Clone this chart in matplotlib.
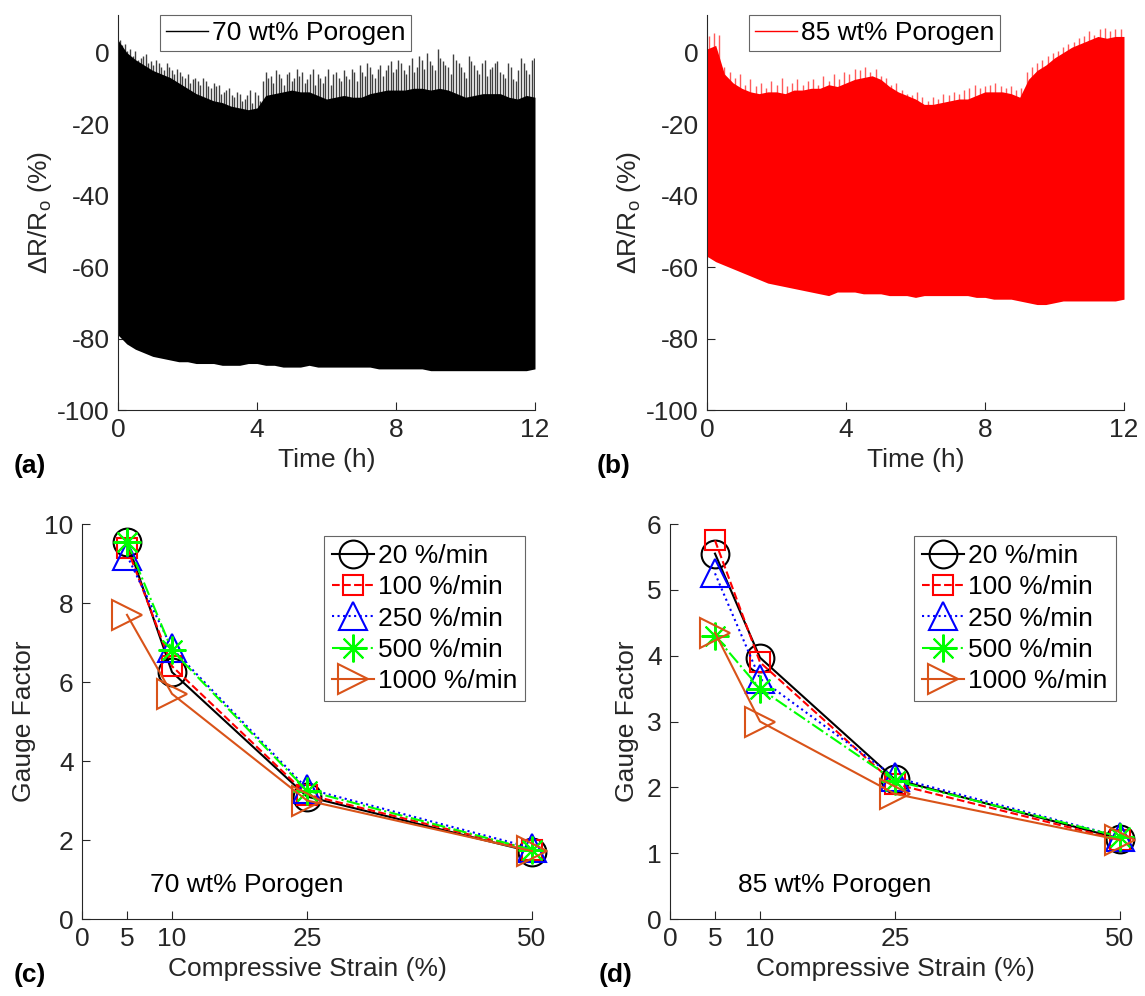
import numpy as np
import matplotlib
matplotlib.use('Agg')
import matplotlib.pyplot as plt
from matplotlib.lines import Line2D

plt.rcParams['font.family'] = ['Liberation Sans', 'DejaVu Sans']
plt.rcParams['font.size'] = 19
plt.rcParams['mathtext.fontset'] = 'custom'
plt.rcParams['mathtext.rm'] = 'Liberation Sans'
plt.rcParams['axes.unicode_minus'] = False

TXT = '#262626'
FS = 19

# ---------------- data: cyclic resistance response (envelopes) -------------
time_h = np.arange(0, 12.001, 0.25)  # 49 samples, hours

top_70 = [3.5, 0.0, -2.0, -3.5, -5.0, -6.0, -7.0, -8.5, -10.0, -11.5, -12.5, -13.5, -14.0,
          -15.0, -15.5, -16.0, -15.5,
          -12.0, -11.5, -11.0, -10.5, -11.0, -11.0, -12.0, -13.0, -12.5, -12.0, -12.5,
          -12.5, -11.5, -11.0, -10.5, -10.5, -10.5, -10.0, -10.0, -10.5, -10.0, -10.5,
          -11.5, -12.5, -12.0, -11.5, -11.5, -11.5, -12.5, -13.0, -12.0, -12.5]
low_70 = [-79, -81.5, -83, -84, -85, -85.5, -86, -86.5, -86.5, -87, -87, -87, -87.5,
          -87.5, -87.5, -87, -87, -87.5, -87.5, -88, -88, -88, -87.5, -88, -88, -88,
          -88, -88, -88, -88, -88.5, -88.5, -88.5, -88.5, -88.5, -88.5, -89, -89, -89,
          -89, -89, -89, -89, -89, -89, -89, -89, -89, -88.5]
spike_70 = [3.5, 2.5, 1.0, 0.5, -1.5, -0.5, -2.5, -2.0, -4.0, -3.0, -5.0, -4.5, -6.5, -6.0,
            -7.5, -8.0, -7.0, -9.5, -8.5, -9.0, -11.0, -10.0, -12.5, -11.5, -13.0, -10.5,
            -11.0, -13.5, -5.5, -6.5, -5.0, -7.0, -6.0, -8.0, -4.5, -5.5, -7.5, -4.5, -6.0,
            -8.5, -4.5, -6.0, -7.0, -5.0, -7.5, -5.5, -3.5, -6.5, -4.0, -7.0, -3.5, -5.0,
            -2.5, -4.5, -3.0, -6.0, -1.5, -4.0, -2.0, 0.0, -3.5, 1.0, -2.5, -4.0, -0.5,
            -3.0, -5.5, -1.0, -3.5, -6.0, -2.0, -4.5, -3.0, -5.5, -7.0, -4.0, -8.0, -1.5,
            -5.0, -2.0]
spike_70b = [2.0, 0.5, -1.0, -2.0, -1.0, -3.0, -3.5, -3.0, -5.0, -4.0,
             -6.0, -5.5, -7.0, -8.5, -7.0, -9.0, -8.0, -10.0, -9.5, -11.5,
             -10.5, -12.0, -11.0, -13.5, -12.0, -14.0, -12.0, -8.0, -7.0, -8.5,
             -6.0, -9.0, -5.5, -7.0, -6.5, -8.5, -6.0, -9.0, -7.0, -6.5,
             -9.0, -5.5, -8.0, -6.5, -4.5, -8.0, -5.5, -3.0, -6.0, -4.5,
             -6.5, -3.5, -5.5, -2.0, -5.0, -3.5, -5.5, -1.0, -4.5, -2.5,
             -5.0, -1.5, -3.5, -6.0, -2.0, -4.0, -7.0, -2.5, -5.0, -3.0,
             -6.5, -4.0, -2.5, -6.0, -3.0, -7.5, -5.0, -3.0, -6.0, -1.5]

top_85 = [1.0, 2.0, -6.0, -8.5, -10.0, -11.0, -11.5, -11.0, -11.0, -11.5, -10.5, -10.5,
          -10.0, -10.0, -9.0, -9.5, -8.5, -7.5, -7.0, -6.5, -7.5, -9.5, -11.0, -12.0, -13.0,
          -14.5, -14.5, -14.0, -13.5, -13.0, -13.0, -12.0, -11.0, -11.0, -11.0, -11.5,
          -12.5, -7.5, -5.0, -3.5, -1.5, 0.0, 1.5, 2.5, 3.5, 4.5, 4.0, 4.5, 4.5]
low_85 = [-57, -58.5, -59.5, -60.5, -61.5, -62.5, -63.5, -64.5, -65, -65.5, -66, -66.5,
          -67, -67.5, -68, -67, -67, -67, -67.5, -67.5, -67.5, -68, -68, -68, -68.5, -68,
          -68, -68, -68, -68, -68, -68.5, -68.5, -69, -69, -69, -69.5, -70, -70.5, -70.5,
          -70, -69.5, -69.5, -69.5, -69.5, -69.5, -69.5, -69.5, -69]
spike_85 = [4.5, 5.5, 5.0, -4.0, -5.5, -7.0, -6.0, -9.0, -7.5, -9.5, -8.5, -10.0, -8.0,
            -9.0, -7.0, -9.5, -8.5, -7.5, -9.0, -8.0, -7.5, -9.0, -6.5, -8.0, -6.0, -7.5,
            -5.5, -6.0, -4.5, -5.0, -4.0, -5.5, -4.5, -6.5, -7.0, -9.0, -8.5, -10.5, -11.5,
            -12.0, -11.0, -12.5, -13.5, -12.5, -13.0, -11.5, -12.0, -11.0, -11.5, -10.5,
            -10.0, -9.0, -10.0, -9.5, -9.0, -8.5, -9.5, -10.0, -9.5, -10.5, -10.0, -5.5,
            -4.0, -3.0, -2.0, -1.0, 0.0, 0.5, 1.5, 2.5, 3.0, 4.0, 4.5, 6.0, 5.0, 6.5, 7.0,
            6.0, 6.5, 6.5]

# ---------------- data: gauge factor vs compressive strain ----------------
strain = [5, 10, 25, 50]
rates = ['20 %/min', '100 %/min', '250 %/min', '500 %/min', '1000 %/min']
gf_70 = {
    '20 %/min':   [9.55, 6.25, 3.10, 1.70],
    '100 %/min':  [9.40, 6.40, 3.15, 1.75],
    '250 %/min':  [9.20, 6.85, 3.30, 1.80],
    '500 %/min':  [9.55, 6.80, 3.25, 1.75],
    '1000 %/min': [7.70, 5.70, 3.00, 1.72],
}
gf_85 = {
    '20 %/min':   [5.55, 3.97, 2.12, 1.22],
    '100 %/min':  [5.75, 3.90, 2.05, 1.20],
    '250 %/min':  [5.25, 3.65, 2.15, 1.25],
    '500 %/min':  [4.30, 3.50, 2.10, 1.25],
    '1000 %/min': [4.35, 3.00, 1.90, 1.20],
}

styles = {
    '20 %/min':   dict(color='k', ls='-', marker='o', ms=20),
    '100 %/min':  dict(color='#ff0000', ls='--', marker='s', ms=15),
    '250 %/min':  dict(color='#0000ff', ls=':', marker='^', ms=20),
    '500 %/min':  dict(color='#00ff00', ls='-.', marker=(8, 2, 0), ms=20),
    '1000 %/min': dict(color='#D95319', ls='-', marker='>', ms=22),
}

W, H = 1145, 996
fig = plt.figure(figsize=(W / 100, H / 100), dpi=100)


def rect(l, r, t, b):
    return [l / W, 1 - b / H, (r - l) / W, (b - t) / H]


def style_ax(ax):
    for s in ('top', 'right'):
        ax.spines[s].set_visible(False)
    for s in ('left', 'bottom'):
        ax.spines[s].set_color(TXT)
        ax.spines[s].set_linewidth(0.8)
    ax.tick_params(direction='in', length=6, width=0.8, colors=TXT, labelsize=FS, pad=6)


def ts_panel(ax, top, low, spike_sets, color, spike_color, label):
    for sp, (t0, t1) in spike_sets:
        st = np.linspace(t0, t1, len(sp))
        ax.vlines(st, -50, sp, color=spike_color, lw=1.0, zorder=1)
    ax.fill_between(time_h, low, top, color=color, lw=0, zorder=2)
    ax.set_xlim(0, 12)
    ax.set_ylim(-100, 10.5)
    ax.set_xticks([0, 4, 8, 12])
    ax.set_yticks([-100, -80, -60, -40, -20, 0])
    ax.set_xlabel('Time (h)', color=TXT, labelpad=4)
    ax.set_ylabel(r'ΔR/R$_\mathregular{o}$ (%)', color=TXT, labelpad=2)
    style_ax(ax)
    leg = ax.legend(handles=[Line2D([], [], color=color, lw=1)], labels=[label],
                    loc='upper left', bbox_to_anchor=(0.10, 1.0), borderaxespad=0,
                    fancybox=False, framealpha=1, edgecolor='0.4', borderpad=0.22,
                    handlelength=1.6, handletextpad=0.15, fontsize=FS)
    leg.get_frame().set_linewidth(0.8)
    leg.set_zorder(10)


ax_a = fig.add_axes(rect(118, 535, 15, 410))
ts_panel(ax_a, top_70, low_70, [(spike_70, (0.05, 11.9)), (spike_70b, (0.12, 11.97))],
         'k', '0.25', '70 wt% Porogen')
ax_b = fig.add_axes(rect(707, 1124, 15, 410))
ts_panel(ax_b, top_85, low_85, [(spike_85, (0.05, 11.9))], '#ff0000', '#ff5a5a',
         '85 wt% Porogen')


def gf_panel(ax, data, ymax, yticks, label, legx):
    for r in rates:
        st = styles[r]
        ax.plot(strain, data[r], color=st['color'], ls=st['ls'], lw=1.5,
                marker=st['marker'], ms=st['ms'], mfc='none', mec=st['color'], mew=1.5,
                label=r, clip_on=False)
    ax.set_xlim(0, 50)
    ax.set_ylim(0, ymax)
    ax.set_xticks([0, 5, 10, 25, 50])
    ax.set_yticks(yticks)
    ax.set_xlabel('Compressive Strain (%)', color=TXT, labelpad=4)
    ax.set_ylabel('Gauge Factor', color=TXT, labelpad=6)
    style_ax(ax)
    leg = ax.legend(loc='upper right', bbox_to_anchor=(legx, 0.97), borderaxespad=0,
                    fancybox=False, framealpha=1, edgecolor='0.4', borderpad=0.3,
                    labelspacing=0.28, handlelength=1.6, handletextpad=0.15, fontsize=FS)
    leg.get_frame().set_linewidth(0.8)
    ax.text(0.15, 0.086, label, transform=ax.transAxes, va='center', ha='left',
            color='k', fontsize=FS)


ax_c = fig.add_axes(rect(82, 532, 524, 919))
gf_panel(ax_c, gf_70, 10, [0, 2, 4, 6, 8, 10], '70 wt% Porogen', 0.985)
ax_d = fig.add_axes(rect(670, 1120, 524, 919))
gf_panel(ax_d, gf_85, 6, [0, 1, 2, 3, 4, 5, 6], '85 wt% Porogen', 0.99)

for txt, x, y in [('(a)', 30, 466), ('(b)', 614, 466), ('(c)', 30, 975), ('(d)', 616, 975)]:
    fig.text(x / W, 1 - y / H, txt, fontweight='bold', fontsize=FS, ha='center',
             va='center', color='k')

fig.savefig('out.png', dpi=100)
